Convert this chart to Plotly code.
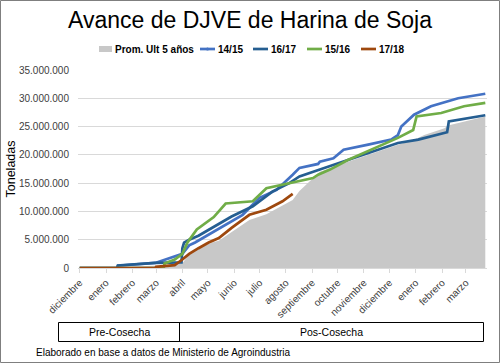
import plotly.graph_objects as go

# ---------------- data (millions of tonnes, cumulative) ----------------
month_ticks = ["2016-12-01", "2017-01-01", "2017-02-01", "2017-03-01", "2017-04-01",
               "2017-05-01", "2017-06-01", "2017-07-01", "2017-08-01", "2017-09-01",
               "2017-10-01", "2017-11-01", "2017-12-01", "2018-01-01", "2018-02-01",
               "2018-03-01"]
month_labels = ["diciembre", "enero", "febrero", "marzo", "abril", "mayo", "junio",
                "julio", "agosto", "septiembre", "octubre", "noviembre", "diciembre",
                "enero", "febrero", "marzo"]

prom_dates = ["2016-12-01", "2017-01-31", "2017-02-28", "2017-04-01", "2017-04-09",
              "2017-04-20", "2017-05-08", "2017-05-14", "2017-05-29", "2017-06-19",
              "2017-07-09", "2017-07-28", "2017-08-09", "2017-08-17", "2017-09-10",
              "2017-10-08", "2017-11-06", "2017-12-11", "2017-12-29", "2018-01-11",
              "2018-02-04", "2018-02-08", "2018-03-24"]
prom_vals = [0, 0.2, 0.4, 0.8, 2.5, 3.5, 4.6, 4.8, 6.3, 8.5, 9.5, 11.0, 12.0, 13.6,
             17.0, 18.5, 20.0, 21.8, 22.6, 23.5, 24.7, 25.2, 26.8]

s1415_dates = ["2016-12-01", "2017-01-14", "2017-01-15", "2017-02-28", "2017-04-01",
               "2017-04-09", "2017-04-16", "2017-05-02", "2017-05-17", "2017-06-11",
               "2017-07-01", "2017-07-21", "2017-08-09", "2017-08-17", "2017-09-08",
               "2017-09-10", "2017-09-26", "2017-10-08", "2017-11-06", "2017-11-25",
               "2017-12-03", "2017-12-11", "2017-12-15", "2017-12-30", "2018-01-19",
               "2018-02-20", "2018-03-24"]
s1415_vals = [0, 0, 0.4, 0.9, 2.5, 4.0, 4.5, 5.9, 7.1, 9.4, 12.4, 13.8, 16.5, 17.7,
              18.4, 18.8, 19.4, 20.9, 21.8, 22.4, 22.7, 23.5, 25.0, 27.1, 28.6, 30.0, 30.8]

s1617_dates = ["2016-12-01", "2017-01-14", "2017-01-15", "2017-02-28", "2017-03-31",
               "2017-04-01", "2017-04-03", "2017-04-09", "2017-04-20", "2017-05-08",
               "2017-05-29", "2017-06-23", "2017-07-16", "2017-08-05", "2017-08-17",
               "2017-09-10", "2017-10-08", "2017-11-06", "2017-12-11", "2018-01-04",
               "2018-02-04", "2018-02-07", "2018-02-09", "2018-03-24"]
s1617_vals = [0, 0, 0.45, 0.9, 1.0, 3.5, 4.5, 5.0, 5.7, 7.3, 9.1, 10.9, 13.5, 15.0,
              16.2, 17.4, 18.8, 20.3, 22.1, 22.7, 23.9, 24.0, 25.9, 27.0]

s1516_dates = ["2016-12-01", "2017-03-10", "2017-03-11", "2017-03-23", "2017-04-01",
               "2017-04-07", "2017-04-18", "2017-05-08", "2017-05-22", "2017-06-23",
               "2017-07-09", "2017-08-05", "2017-08-17", "2017-09-02", "2017-09-08",
               "2017-09-22", "2017-10-13", "2017-11-18", "2017-12-03", "2017-12-11",
               "2017-12-29", "2018-01-02", "2018-01-31", "2018-02-27", "2018-03-24"]
s1516_vals = [0, 0, 0.8, 1.5, 2.5, 4.5, 6.8, 9.0, 11.4, 11.8, 14.1, 15.0, 15.3, 15.9,
              16.5, 17.4, 19.1, 21.5, 22.4, 23.0, 24.4, 26.8, 27.4, 28.6, 29.2]

s1718_dates = ["2016-12-01", "2017-02-28", "2017-03-01", "2017-03-23", "2017-04-01",
               "2017-04-09", "2017-04-20", "2017-05-02", "2017-05-14", "2017-05-29",
               "2017-06-19", "2017-07-09", "2017-07-28", "2017-08-09"]
s1718_vals = [0, 0, 0.2, 0.5, 1.5, 2.5, 3.5, 4.5, 5.3, 7.1, 9.4, 10.3, 11.8, 13.1]

series_names = ["Prom. Ult 5 años", "14/15", "16/17", "15/16", "17/18"]
series_colors = ["#c8c8c8", "#4472C4", "#255E91", "#70AD47", "#9E480E"]

M = 1_000_000

def scale(v):
    return [x * M for x in v]

fig = go.Figure()
fig.add_trace(go.Scatter(x=prom_dates, y=scale(prom_vals), name=series_names[0],
                         mode="lines", line=dict(width=0, color=series_colors[0]),
                         fill="tozeroy", fillcolor=series_colors[0]))
for name, color, d, v in [(series_names[1], series_colors[1], s1415_dates, s1415_vals),
                          (series_names[2], series_colors[2], s1617_dates, s1617_vals),
                          (series_names[3], series_colors[3], s1516_dates, s1516_vals),
                          (series_names[4], series_colors[4], s1718_dates, s1718_vals)]:
    fig.add_trace(go.Scatter(x=d, y=scale(v), name=name, mode="lines",
                             line=dict(color=color, width=2.7)))

L, R, T, B = 78, 13, 70, 95
W, H = 500, 363
pw, ph = W - L - R, H - T - B

def px(x):
    return (x - L) / pw

def py(y):
    return (H - B - y) / ph

shapes = [
    # outer frame
    dict(type="rect", xref="paper", yref="paper", x0=px(0.5), x1=px(499.5),
         y0=py(362.5), y1=py(0.5), line=dict(color="#7f7f7f", width=1)),
    # pre/pos cosecha table
    dict(type="rect", xref="paper", yref="paper", x0=px(58.5), x1=px(483.5),
         y0=py(341.5), y1=py(322.5), line=dict(color="#000000", width=1)),
    dict(type="line", xref="paper", yref="paper", x0=px(179.5), x1=px(179.5),
         y0=py(341.5), y1=py(322.5), line=dict(color="#000000", width=1)),
]

annotations = [
    dict(text="Pre-Cosecha", xref="paper", yref="paper", x=px(119), y=py(332),
         xanchor="center", yanchor="middle",
         showarrow=False, font=dict(size=10.5, color="#000000")),
    dict(text="Pos-Cosecha", xref="paper", yref="paper", x=px(331), y=py(332),
         xanchor="center", yanchor="middle",
         showarrow=False, font=dict(size=10.5, color="#000000")),
    dict(text="Elaborado en base a datos de Ministerio de Agroindustria", xref="paper",
         yref="paper", x=px(34), y=py(352), xanchor="left", yanchor="middle",
         showarrow=False, font=dict(size=10, color="#000000")),
]

# legend keys (drawn manually to match the compact Excel legend)
leg_y = 49
key_x = [99, 200, 253, 307, 361]
text_x = [113, 216, 269, 323, 377]
for i, (name, color) in enumerate(zip(series_names, series_colors)):
    if i == 0:
        shapes.append(dict(type="rect", xref="paper", yref="paper",
                           x0=px(key_x[i]), x1=px(key_x[i] + 13),
                           y0=py(leg_y + 3), y1=py(leg_y - 3),
                           fillcolor=color, line=dict(width=0)))
    else:
        shapes.append(dict(type="line", xref="paper", yref="paper",
                           x0=px(key_x[i]), x1=px(key_x[i] + 15),
                           y0=py(leg_y), y1=py(leg_y),
                           line=dict(color=color, width=2.7)))
    annotations.append(dict(text="<b>" + name + "</b>", xref="paper", yref="paper",
                            x=px(text_x[i]), y=py(leg_y), xanchor="left",
                            yanchor="middle", showarrow=False,
                            font=dict(size=10, color="#000000")))
# small marker on 14/15 key
shapes.append(dict(type="circle", xref="paper", yref="paper",
                   x0=px(206), x1=px(209), y0=py(leg_y + 1.5), y1=py(leg_y - 1.5),
                   fillcolor=series_colors[1], line=dict(width=0)))

fig.update_layout(
    width=W, height=H,
    margin=dict(l=L, r=R, t=T, b=B, pad=0, autoexpand=False),
    paper_bgcolor="white", plot_bgcolor="white",
    separators=",.",
    font=dict(family="Liberation Sans, Arial, sans-serif", color="#404040"),
    title=dict(text="Avance de DJVE de Harina de Soja", x=0.5, xanchor="center",
               y=1 - 20 / H, yanchor="middle",
               font=dict(size=23, color="#000000")),
    showlegend=False,
    shapes=shapes,
    annotations=annotations,
    xaxis=dict(type="date", range=["2016-11-29", "2018-03-26"], automargin=False,
               tickvals=month_ticks, ticktext=month_labels, tickangle=-45,
               tickfont=dict(size=10, color="#404040"),
               showgrid=False, showline=True, linecolor="#d9d9d9",
               ticks="outside", ticklen=4, tickcolor="#d9d9d9", zeroline=False),
    yaxis=dict(range=[0, 35 * M], tickvals=[i * 5 * M for i in range(8)], automargin=False,
               tickformat=",d", tickfont=dict(size=10, color="#404040"),
               showgrid=True, gridcolor="#d9d9d9", zeroline=False,
               ticklabelstandoff=8,
               title=dict(text="Toneladas", font=dict(size=12.5, color="#000000"),
                          standoff=0)),
)

fig.write_html("out.html", config={"displayModeBar": False},
               post_script="document.body.style.margin='0';document.body.style.padding='0';")
